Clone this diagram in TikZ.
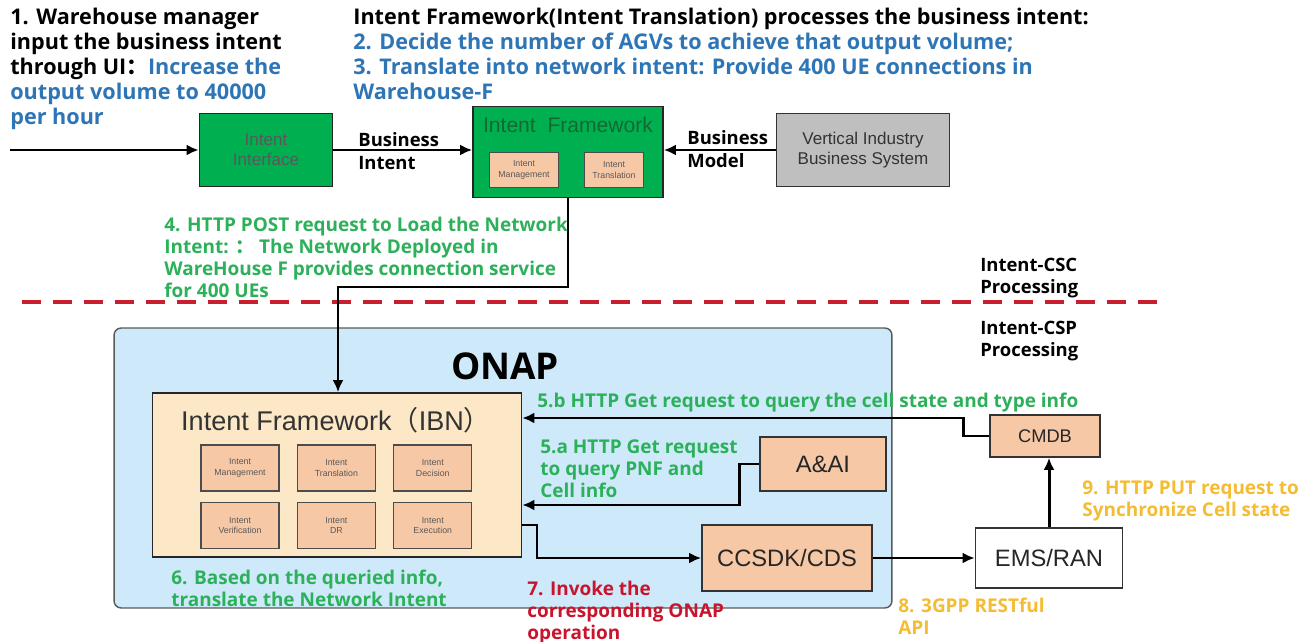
\documentclass[tikz,border=0pt]{standalone}
\usepackage{fontspec}
\setmainfont{Open Sans}
\newfontfamily\boxfont{Liberation Sans}
\newfontfamily\cjk{Noto Sans CJK SC}
\usetikzlibrary{positioning,arrows.meta,calc}
\definecolor{txtblue}{RGB}{46,117,182}
\definecolor{txtgreen}{RGB}{44,176,90}
\definecolor{txtred}{RGB}{200,20,45}
\definecolor{txtyellow}{RGB}{244,188,50}
\definecolor{boxgreen}{RGB}{0,176,80}
\definecolor{titlegreen}{RGB}{20,105,50}
\definecolor{modfill}{RGB}{247,200,165}
\definecolor{ibnfill}{RGB}{252,232,198}
\definecolor{onapfill}{RGB}{206,234,250}
\definecolor{sysgray}{RGB}{191,191,191}
\definecolor{cutred}{RGB}{200,30,45}

\begin{document}
\begin{tikzpicture}[
    x=0.02cm, y=-0.02cm,
    greenbox/.style={draw=black!85, line width=1pt, fill=boxgreen, align=center, font=\boxfont\fontsize{9.7}{11.5}\selectfont, text=black!65},
    graybox/.style={draw=black!80, line width=1pt, fill=sysgray, align=center, font=\boxfont\fontsize{9.7}{11.5}\selectfont, text=black!80},
    modbox/.style={draw=black!70, line width=0.8pt, fill=modfill, align=center, font=\boxfont\fontsize{5}{6}\selectfont, text=black!65, inner sep=1pt},
    onapbox/.style={draw=black!65, line width=0.8pt, fill=onapfill, rounded corners=4pt},
    srvbox/.style={draw=black!80, line width=1pt, fill=modfill, align=center, font=\boxfont\fontsize{13.5}{16}\selectfont, text=black!85},
    arrow/.style={-{Latex[length=2.4mm,width=2.2mm]}, line width=1.7pt},
    lbl/.style={font=\bfseries\fontsize{10.8}{12.5}\selectfont, align=left, anchor=north west, inner sep=0pt},
    biglbl/.style={font=\bfseries\fontsize{12.3}{14.2}\selectfont, align=left, anchor=north west, inner sep=0pt}
]
\useasboundingbox (0,0) rectangle (1299,642);

% Headings
\node[biglbl] (step1) at (10,8) {1. Warehouse manager\\input the business intent\\through UI{\cjk ：}\textcolor{txtblue}{Increase the}\\\textcolor{txtblue}{output volume to 40000}\\\textcolor{txtblue}{per hour}};
\node[biglbl] (step23) at (353,8) {Intent Framework(Intent Translation) processes the business intent:\\\textcolor{txtblue}{2. Decide the number of AGVs to achieve that output volume;}\\\textcolor{txtblue}{3. Translate into network intent: Provide 400 UE connections in}\\\textcolor{txtblue}{Warehouse-F}};

% Business layer
\coordinate (start) at (10,150);
\node[greenbox, minimum width=2.66cm, minimum height=1.46cm] (ui) at (266,150) {Intent\\Interface};
\node[greenbox, minimum width=3.8cm, minimum height=1.82cm] (iftop) at (568,152) {};
\node[font=\boxfont\fontsize{12}{14}\selectfont, text=titlegreen] (iftoptitle) at (568,125) {Intent\ \ Framework};
\node[modbox, minimum width=1.38cm, minimum height=0.7cm] (topmgmt) at (524,170) {Intent\\Management};
\node[modbox, minimum width=1.18cm, minimum height=0.7cm] (toptrans) at (614,170) {Intent\\Translation};
\node[graybox, minimum width=3.46cm, minimum height=1.46cm] (vsys) at (863,150) {Vertical Industry\\Business System};

\draw[arrow] (start) -- (ui.west);
\draw[arrow] (ui.east) -- (ui.east -| iftop.west);
\draw[arrow] (vsys.west) -- (vsys.west -| iftop.east);
\node[lbl, anchor=west, font=\bfseries\fontsize{10.5}{13}\selectfont] (bizintent) at (358,151) {Business\\Intent};
\node[lbl, anchor=west, font=\bfseries\fontsize{10.5}{13}\selectfont] (bizmodel) at (687,149) {Business\\Model};

% Boundary CSC / CSP
\coordinate (cutL) at (22,302);
\coordinate (cutR) at (1160,302);
\draw[cutred, line width=2.2pt, dash pattern=on 0.38cm off 0.24cm] (cutL) -- (cutR);
\node[lbl, font=\bfseries\fontsize{10.5}{12.5}\selectfont] (csc) at (980,258) {Intent-CSC\\Processing};
\node[lbl, font=\bfseries\fontsize{10.5}{12.5}\selectfont] (csp) at (980,321) {Intent-CSP\\Processing};

% ONAP
\node[onapbox, minimum width=15.56cm, minimum height=5.6cm] (onap) at (503,468) {};
\node[font=\bfseries\fontsize{21}{24}\selectfont] (onaptitle) at (505,366) {ONAP};
\node[draw=black!85, line width=1pt, fill=ibnfill, minimum width=7.38cm, minimum height=3.28cm] (ibn) at (337,475) {};
\node[font=\boxfont\fontsize{15.4}{18}\selectfont, text=black!80, anchor=west] (ibntitle) at (175,420) {Intent Framework{\cjk （}IBN{\cjk ）}};
\node[modbox, minimum width=1.56cm, minimum height=0.92cm] (mgmt) at (240,468) {Intent\\Management};
\node[modbox, minimum width=1.56cm, minimum height=0.92cm, right=0.34cm of mgmt] (trans) {Intent\\Translation};
\node[modbox, minimum width=1.56cm, minimum height=0.92cm, right=0.34cm of trans] (decis) {Intent\\Decision};
\node[modbox, minimum width=1.56cm, minimum height=0.92cm, below=0.2cm of mgmt] (verif) {Intent\\Verification};
\node[modbox, minimum width=1.56cm, minimum height=0.92cm, below=0.2cm of trans] (dr) {Intent\\DR};
\node[modbox, minimum width=1.56cm, minimum height=0.92cm, below=0.2cm of decis] (exec) {Intent\\Execution};

\node[srvbox, minimum width=2.52cm, minimum height=1.08cm] (aai) at (823,464) {A\&AI};
\node[srvbox, minimum width=3.4cm, minimum height=1.32cm] (ccsdk) at (787,558) {CCSDK/CDS};
\node[srvbox, fill=white, minimum width=2.94cm, minimum height=1.2cm] (emsran) at (1049,558) {EMS/RAN};
\node[srvbox, minimum width=2.2cm, minimum height=0.84cm, font=\boxfont\fontsize{10.4}{12}\selectfont] (cmdb) at (1045,436) {CMDB};

% Connectors
\coordinate (turn4) at (338,287);
\draw[arrow] (iftop.south) |- (turn4) -- (turn4 |- ibn.north);
\coordinate (turn5b) at (963,418);
\draw[arrow] (cmdb.west) -| (turn5b) -- (turn5b -| ibn.east);
\coordinate (turn5a) at (739,505);
\draw[arrow] (aai.west) -| (turn5a) -- (turn5a -| ibn.east);
\coordinate (turn7) at (537,525);
\draw[arrow] (turn7 -| ibn.east) -- (turn7) |- (ccsdk.west);
\draw[arrow] (ccsdk.east) -- (emsran.west);
\draw[arrow] (emsran.north) -- (emsran.north |- cmdb.south);

% Step labels
\node[lbl, text=txtgreen] (step4) at (164,217) {4. HTTP POST request to Load the Network\\Intent: {\cjk ：} The Network Deployed in\\WareHouse F provides connection service\\for 400 UEs};
\node[lbl, text=txtgreen, anchor=west] (step5b) at (537,403) {5.b HTTP Get request to query the cell state and type info};
\node[lbl, text=txtgreen] (step5a) at (540,439) {5.a HTTP Get request\\to query PNF and\\Cell info};
\node[lbl, text=txtgreen] (step6) at (171,570) {6. Based on the queried info,\\translate the Network Intent};
\node[lbl, text=txtred] (step7) at (527,581) {7. Invoke the\\corresponding ONAP\\operation};
\node[lbl, text=txtyellow] (step8) at (898,598) {8. 3GPP RESTful\\API};
\node[lbl, text=txtyellow] (step9) at (1082,480) {9. HTTP PUT request to\\Synchronize Cell state};

\end{tikzpicture}
\end{document}
